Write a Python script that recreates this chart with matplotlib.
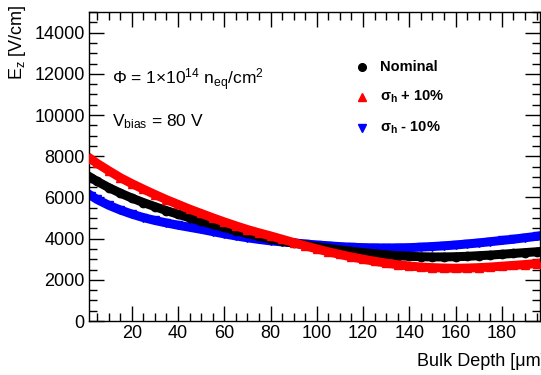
import matplotlib
matplotlib.use("Agg")
import matplotlib.pyplot as plt
from matplotlib.ticker import MultipleLocator

plt.rcParams['font.family'] = ['Liberation Sans', 'DejaVu Sans']
plt.rcParams['mathtext.fontset'] = 'custom'
plt.rcParams['mathtext.rm'] = 'Liberation Sans'
plt.rcParams['mathtext.it'] = 'Liberation Sans'
plt.rcParams['mathtext.bf'] = 'Liberation Sans:bold'
plt.rcParams['mathtext.default'] = 'regular'

# bulk depth [um]
depth = [2.5, 5, 10, 15, 20, 25, 30, 35, 40, 45, 50, 55, 60, 65, 70, 75, 80, 85, 90, 95,
         100, 105, 110, 115, 120, 125, 130, 135, 140, 145, 150, 155, 160, 165, 170, 175,
         180, 185, 190, 195, 197.5]

nominal = [6950, 6780, 6480, 6210, 5970, 5750, 5550, 5360, 5180, 5010, 4850, 4690, 4540,
           4390, 4250, 4120, 3990, 3880, 3780, 3690, 3600, 3520, 3450, 3380, 3320, 3260,
           3210, 3170, 3140, 3120, 3110, 3110, 3120, 3140, 3170, 3200, 3240, 3280, 3320,
           3360, 3380]

sigma_plus = [7850, 7650, 7300, 6960, 6670, 6400, 6140, 5890, 5660, 5430, 5220, 5010, 4810,
              4620, 4440, 4280, 4130, 3970, 3810, 3650, 3500, 3360, 3230, 3110, 3000, 2900,
              2810, 2730, 2670, 2620, 2590, 2570, 2560, 2570, 2590, 2620, 2660, 2700, 2740,
              2790, 2810]

sigma_minus = [6080, 5900, 5620, 5390, 5190, 5020, 4880, 4760, 4650, 4550, 4450, 4340, 4230,
               4130, 4040, 3960, 3890, 3840, 3790, 3740, 3690, 3650, 3610, 3580, 3560, 3550,
               3545, 3550, 3560, 3585, 3615, 3650, 3690, 3740, 3790, 3850, 3910, 3970, 4040,
               4110, 4150]

fig = plt.figure(figsize=(5.41, 3.75), dpi=100)
ax = fig.add_axes([0.1645, 0.144, 0.8336, 0.824])

ax.plot(depth, sigma_minus, color="blue", lw=6.5, marker="v", markersize=6, zorder=2)
ax.plot(depth, nominal, color="black", lw=6.5, marker="o", markersize=6, zorder=3)
ax.plot(depth, sigma_plus, color="red", lw=6.5, marker="^", markersize=6, zorder=4)

ax.set_xlim(1.5, 196.5)
ax.set_ylim(0, 15000)
ax.xaxis.set_major_locator(MultipleLocator(20))
ax.xaxis.set_minor_locator(MultipleLocator(5))
ax.yaxis.set_major_locator(MultipleLocator(2000))
ax.yaxis.set_minor_locator(MultipleLocator(500))
ax.tick_params(which="both", direction="in", top=True, right=True, width=1, labelsize=13)
ax.tick_params(which="major", length=11, pad=3)
ax.tick_params(which="minor", length=6)
for s in ax.spines.values():
    s.set_linewidth(1)

fig.text(417 / 541, 1 - 362 / 375, "Bulk Depth [\u03bcm]", fontsize=13, ha="left", va="center")
fig.text(18 / 541, 1 - 4 / 375, "E$_z$ [V/cm]", fontsize=13, rotation=90, ha="center", va="top")

ax.text(0.051, 0.78, r"$\Phi$ = 1$\times$10$^{14}$ n$_{eq}$/cm$^{2}$", transform=ax.transAxes,
        fontsize=12.5, ha="left", va="center")
ax.text(0.051, 0.645, "V$_{bias}$ = 80 V", transform=ax.transAxes,
        fontsize=12.5, ha="left", va="center")

# legend
leg_y = [1 - 67 / 375, 1 - 97 / 375, 1 - 128 / 375]
leg_marker = ["o", "^", "v"]
leg_color = ["black", "red", "blue"]
leg_text = ["Nominal", r"$\sigma_\mathbf{h}$ + 10%", r"$\sigma_\mathbf{h}$ - 10%"]
for yy, m, c, t in zip(leg_y, leg_marker, leg_color, leg_text):
    fig.lines.append(plt.Line2D([362 / 541], [yy], marker=m, color=c, markersize=5.5,
                                linestyle="none", transform=fig.transFigure))
    fig.text(380 / 541, yy, t, fontsize=10.5, fontweight="bold", ha="left", va="center")

fig.savefig("out.png", dpi=100)
